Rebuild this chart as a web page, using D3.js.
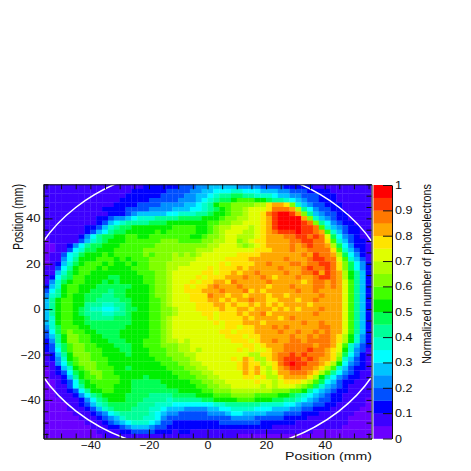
<!DOCTYPE html>
<html>
<head>
<meta charset="utf-8">
<script src="https://cdnjs.cloudflare.com/ajax/libs/d3/7.8.5/d3.min.js"></script>
<style>
    html, body { margin: 0; padding: 0; background: #fff; }
    text { font-family: "Liberation Sans", sans-serif; fill: #111; }
</style>
</head>
<body>
<svg id="chart" width="471" height="471"></svg>
<script>
// colour level of each 2 mm bin (base 20, one char per 0.05 of the z axis), top row first
let heatRows = [
"11111111 11111111 12222223 33445555 54444333 32222211 11111111",
"11111111 11111112 22222333 34455666 77666555 44333222 21111111",
"11111111 11111122 22223333 44556788 99887776 55443332 22111111",
"11111111 11111222 22333334 44567899 abbbaa98 87654332 22111111",
"11111111 11112222 33334444 55678abb ccccddfg gfc75433 22211111",
"11111111 11222233 33444455 566789ab ccdeeefh hhgd8643 32211111",
"11111111 11122234 55555667 77889aab ccdeefhi jjigc854 33221111",
"11111111 12234456 77788889 999aaabc cddeefgi jjjjgc75 43221111",
"11111111 12356788 88999aaa aaaabbcc ddeeefgi jjjjihc8 64322111",
"11111112 2357899a aaaaaabb bbaabcdd eeedefgi jjjjiihb 75432211",
"11111112 356899aa aaababbb bbaabcde eeddefgh iiijiihg b7532211",
"11111124 6899aabb aabbbbbb baabccde edddefgg ghhiihih e9643211",
"01111135 789aaabb bbbbcccb bbbccdde ecdeffgg gghhiihh fb753221",
"00112468 99aaabbb bbbccccc ccccddee edcdefgg gghghihh gd964221",
"00113679 9aaabbbb bccccccc ccdddeee eeeefffg gghgghhh hfb75321",
"0113679a aababbbb bcbcccdc dcdeeeee effffggg gggghgih hgd96421",
"011468aa abbbabab bbccccdd ddeeeeef fffggggg ghggghii hheb7531",
"012579ab bbabaaba bbcccddd deeeeefe ffffgghg gghhghhi ihfc9642",
"11368abb babaaaab bbcccdde eeeefeff fgfggggg hggghihh ihfc9642",
"11579abb aaaaaaaa bbbccdee eeeffeff gfgghggg ghgghhig ihgda852",
"12689bba aaa99aaa abbccdee eefefffg gghgghgf ggghgghi ihgda852",
"1479abba aa9a9aaa abbccdee efeffggf hggggghg ggggfghh ghgeb852",
"257abbaa a999999a aabccdee feffghgg ghggggfg gghggghh ghgeb852",
"368abbaa 999899aa aabccdee fffggghg gghfgfgg ggghgghg gggeb852",
"478abaa9 998899aa aabccdee efffhggf ggfgggfg gfgggggh gggeb852",
"58abbaa9 9888899a aabbcdee efffggfg fgghggff gggfgghg gggeb852",
"58abbaa8 8877889a aabbcdee eefffggf gffgfgfg fggggfgg gggeb852",
"58abba98 77667899 aabbccde eeffffgf fggfgggf gfgfgggh gggeb852",
"58abba98 8877889a aabbccde eeeffeff fgfgghfg gggggghg gggeb852",
"57abbaa9 8888999a aabbcdee eeeefeff ffgfgggg fghggggg gggeb852",
"57abbaa9 9999999a aabbcdee eeeeefef ffgggfgg gggghggh gggeb852",
"479bbbaa 999999aa aabbcdee eeeeeeef feffgggh ghgggggh hggeb852",
"369bcbba a9999aaa aabbcdee eeeeeeff efffgggg hgghgghg hggeb852",
"358accbb aa999aaa aabbcdee eeeeeeef ffeffggg gghgghgh hgfda742",
"248accbb aaa999aa abbbcdde deeeeeee fffefggh gghhghhh hgfda742",
"2379bccb baaa999a abbbcccd deeeeeee eeffefgg ghhhhhgh hgeb7532",
"2369bccb bbaaa99a aabbbccd dedeeeee efefeefg ghhhhihh gfea7431",
"1258accc bbaaaa9a aabbbccc ddeeeeee eeeddffg hhihihhh gfd96421",
"1247abcc bbbaaaaa aaabbbcc cdeeeeee fegfddfg hiiihihg gfc75321",
"11469bcc cbbaaaaa aaaabbbc cddeeeee efgffdef hijiihhg fda64321",
"01257abc cbbbaa9a aaaaabbb ccddeeee efgfgedf ghiihhgf db753221",
"012369ab ccbbaaaa aaaaaabb bccddeee eegfgede gghhhgfd b8643211",
"011258ab bcbbbaaa a9aaaaab bbccddee eeffefdd fggggfda 86432211",
"0012369a bbbbbaa9 9999aaaa abbccdde eeeefeed efffedb9 65322111",
"0011368a abbbaaa9 99999aaa aabbccdd eeeeeded eeedcb97 54321111",
"00112368 aabbaaa9 9999999a aaabbccc dddddddc ccbba865 43221111",
"00111246 89aaaa99 99888899 99aaabbb ccccbbbb aa987654 32211111",
"00011124 689aaa99 98888788 88899aaa abbbaaa9 98876543 32211110",
"00001123 57899999 88877766 66666778 88888777 76654433 22111110",
"00001112 35789998 88776555 44445566 77776665 55443322 21111100",
"00000111 23467888 88765443 33334445 66555544 43332221 11111000",
"00000011 12345788 87764333 33333333 44443333 32222111 11110000",
"00000001 11234567 77653322 22222233 33333222 22211111 11110000",
"00000000 11122345 55433222 22222222 22222221 11111111 11100000",
"00000000 01111223 33322212 21111111 11111111 11111100 00000000",
"00000000 00111111 11111111 11111111 10000000 00000000 00000000"
];
let binSize = 2;
let firstBinX = -55;
let firstBinY = 54;

// z axis palette, low to high
let palette = ["#6a00ff", "#3c00ff", "#0000ff", "#0050ff", "#0090ff", "#00c4ff", "#00ffff", "#00ffcc",
    "#00ff99", "#00ff55", "#00f000", "#40ff00", "#80ff00", "#b0ff00", "#e0ff00", "#ffe400",
    "#ffa800", "#ff7800", "#ff3800", "#ff0000"];

let xMajor = [-40, -20, 0, 20, 40];
let yMajor = [-40, -20, 0, 20, 40];
let xMinor = d3.range(-55, 56, 5).filter(d => d % 20 !== 0);
let yMinor = d3.range(-55, 56, 5).filter(d => d % 20 !== 0);
let zTicks = [0, 0.1, 0.2, 0.3, 0.4, 0.5, 0.6, 0.7, 0.8, 0.9, 1];
let detectorRadius = 63.5;

let svg = d3.select("#chart");

let xScale = d3.scaleLinear().domain([-56, 56]).range([43.5, 371.5]);
let yScale = d3.scaleLinear().domain([-57, 55]).range([438.5, 184.3]);
let zScale = d3.scaleLinear().domain([0, 1]).range([438.5, 185]);
let colorScale = d3.scaleQuantize().domain([0, 1]).range(palette);

let defs = svg.append("defs");
defs.append("clipPath").attr("id", "plotClip")
    .append("rect")
    .attr("x", xScale(-56)).attr("y", yScale(55))
    .attr("width", xScale(56) - xScale(-56))
    .attr("height", yScale(-57) - yScale(55));
// the reference is a resampled bitmap, so soften the bins a little
defs.append("filter").attr("id", "soften")
    .append("feGaussianBlur").attr("stdDeviation", 0.6);

// turn the level strings into bins
let bins = [];
heatRows.forEach((row, r) => {
    row.replace(/ /g, "").split("").forEach((ch, c) => {
        bins.push({
            x: firstBinX + c * binSize,
            y: firstBinY - r * binSize,
            z: (parseInt(ch, 20) + 0.5) * 0.05
        });
    });
});

svg.append("g").attr("clip-path", "url(#plotClip)")
    .append("g").attr("filter", "url(#soften)")
    .selectAll("rect")
    .data(bins)
    .enter()
    .append("rect")
    .attr("x", d => xScale(d.x - binSize / 2))
    .attr("y", d => yScale(d.y + binSize / 2))
    .attr("width", d => xScale(d.x + binSize / 2) - xScale(d.x - binSize / 2) + 0.3)
    .attr("height", d => yScale(d.y - binSize / 2) - yScale(d.y + binSize / 2) + 0.3)
    .attr("fill", d => colorScale(d.z));

// detector outline, only the parts inside the frame show up
svg.append("ellipse")
    .attr("clip-path", "url(#plotClip)")
    .attr("cx", xScale(0)).attr("cy", yScale(0))
    .attr("rx", xScale(detectorRadius) - xScale(0))
    .attr("ry", yScale(0) - yScale(detectorRadius))
    .attr("fill", "none")
    .attr("stroke", "#fff")
    .attr("stroke-width", 1.5);

// axes: major with labels on bottom/left, ticks repeated on top/right
function styleAxis(g) {
    g.select(".domain").attr("stroke", "#111");
    g.selectAll(".tick line").attr("stroke", "#111");
    g.selectAll("text")
        .style("font-family", '"Liberation Sans", sans-serif')
        .style("font-size", "11px")
        .attr("fill", "#111")
        .attr("lengthAdjust", "spacingAndGlyphs");
}

svg.append("g")
    .attr("transform", `translate(0, ${yScale(-57)})`)
    .call(d3.axisBottom(xScale).tickValues(xMajor).tickSize(-9).tickSizeOuter(0).tickPadding(3))
    .call(styleAxis)
    .selectAll("text").attr("textLength", d => d < 0 ? 20 : (d === 0 ? 7 : 14));
svg.append("g")
    .attr("transform", `translate(0, ${yScale(-57)})`)
    .call(d3.axisBottom(xScale).tickValues(xMinor).tickSize(-5).tickSizeOuter(0).tickFormat(""))
    .call(styleAxis);
svg.append("g")
    .attr("transform", `translate(${xScale(-56)}, 0)`)
    .call(d3.axisLeft(yScale).tickValues(yMajor).tickSize(-9).tickSizeOuter(0).tickPadding(3))
    .call(styleAxis)
    .selectAll("text").attr("textLength", d => d < 0 ? 20 : (d === 0 ? 7 : 14.5));
svg.append("g")
    .attr("transform", `translate(${xScale(-56)}, 0)`)
    .call(d3.axisLeft(yScale).tickValues(yMinor).tickSize(-5).tickSizeOuter(0).tickFormat(""))
    .call(styleAxis);
svg.append("g")
    .attr("transform", `translate(0, ${yScale(55)})`)
    .call(d3.axisTop(xScale).tickValues(xMajor.concat(xMinor)).tickSize(-5).tickSizeOuter(0).tickFormat(""))
    .call(styleAxis);
svg.append("g")
    .attr("transform", `translate(${xScale(56)}, 0)`)
    .call(d3.axisRight(yScale).tickValues(yMajor.concat(yMinor)).tickSize(-5).tickSizeOuter(0).tickFormat(""))
    .call(styleAxis);

// colour bar
let barLeft = 373.5;
let barRight = 392;
svg.append("g").selectAll("rect")
    .data(palette)
    .enter()
    .append("rect")
    .attr("x", barLeft)
    .attr("width", barRight - barLeft)
    .attr("y", (d, i) => zScale((i + 1) * 0.05))
    .attr("height", zScale(0) - zScale(0.05) + 0.3)
    .attr("fill", d => d);
svg.append("g")
    .attr("transform", `translate(${barRight}, 0)`)
    .call(d3.axisRight(zScale).tickValues(zTicks).tickSize(-9).tickSizeOuter(0).tickPadding(3)
        .tickFormat(d3.format(".1~f")))
    .call(styleAxis)
    .selectAll("text").attr("textLength", d => (d === 0 || d === 1) ? 7 : 17.5);

// axis titles
svg.append("text")
    .attr("x", 372).attr("y", 459.5)
    .attr("text-anchor", "end")
    .attr("textLength", 87)
    .attr("lengthAdjust", "spacingAndGlyphs")
    .style("font-size", "11.5px")
    .text("Position (mm)");
svg.append("text")
    .attr("transform", "translate(23, 184) rotate(-90)")
    .attr("text-anchor", "end")
    .attr("textLength", 66)
    .attr("lengthAdjust", "spacingAndGlyphs")
    .style("font-size", "14px")
    .text("Position (mm)");
svg.append("text")
    .attr("transform", "translate(431, 184) rotate(-90)")
    .attr("text-anchor", "end")
    .attr("textLength", 180)
    .attr("lengthAdjust", "spacingAndGlyphs")
    .style("font-size", "13px")
    .text("Normalized number of photoelectrons");
</script>
</body>
</html>
